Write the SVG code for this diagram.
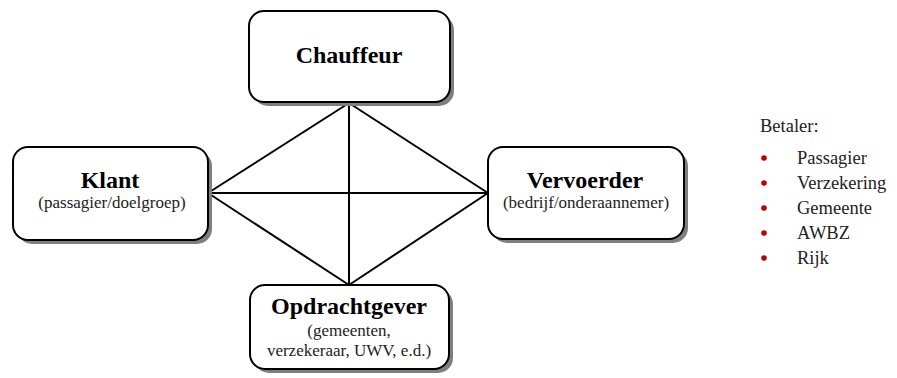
<svg xmlns="http://www.w3.org/2000/svg" width="897" height="378" viewBox="0 0 897 378">
<style>
.box{fill:#fff;stroke:#000;stroke-width:2}
.sh{fill:#7f7f7f}
.t{font-family:"Liberation Serif",serif;font-weight:bold;font-size:24px;fill:#000;text-anchor:middle}
.s{font-family:"Liberation Serif",serif;font-size:17px;fill:#222;text-anchor:middle}
.l{font-family:"Liberation Serif",serif;font-size:18.5px;fill:#222}
.ln{stroke:#000;stroke-width:2;fill:none}
</style>
<g id="connectors">
<line class="ln" x1="349" y1="103" x2="208" y2="193"/>
<line class="ln" x1="349" y1="103" x2="488" y2="193"/>
<line class="ln" x1="208" y1="193" x2="349" y2="285"/>
<line class="ln" x1="488" y1="193" x2="349" y2="285"/>
<line class="ln" x1="349" y1="103" x2="349" y2="285"/>
<line class="ln" x1="208" y1="193" x2="488" y2="193"/>
</g>
<g id="chauffeur">
<rect class="sh" x="253" y="15" width="201" height="91" rx="15"/>
<rect class="box" x="249" y="11" width="201" height="91" rx="15"/>
<text class="t" x="349" y="63">Chauffeur</text>
</g>
<g id="klant">
<rect class="sh" x="17" y="151" width="195" height="93" rx="15"/>
<rect class="box" x="13" y="147" width="195" height="93" rx="15"/>
<text class="t" x="110" y="188">Klant</text>
<text class="s" x="112" y="208">(passagier/doelgroep)</text>
</g>
<g id="vervoerder">
<rect class="sh" x="492" y="151" width="196" height="92" rx="15"/>
<rect class="box" x="488" y="147" width="196" height="92" rx="15"/>
<text class="t" x="585" y="188">Vervoerder</text>
<text class="s" x="586" y="208">(bedrijf/onderaannemer)</text>
</g>
<g id="opdrachtgever">
<rect class="sh" x="254" y="289" width="199" height="84" rx="15"/>
<rect class="box" x="250" y="285" width="199" height="84" rx="15"/>
<text class="t" x="349" y="314">Opdrachtgever</text>
<text class="s" x="349" y="336">(gemeenten,</text>
<text class="s" x="349" y="356">verzekeraar, UWV, e.d.)</text>
</g>
<g id="legend">
<text class="l" x="760" y="132">Betaler:</text>
<g fill="#c00000">
<circle cx="764" cy="158" r="2.8"/>
<circle cx="764" cy="183" r="2.8"/>
<circle cx="764" cy="208" r="2.8"/>
<circle cx="764" cy="233" r="2.8"/>
<circle cx="764" cy="258" r="2.8"/>
</g>
<text class="l" x="797" y="164">Passagier</text>
<text class="l" x="797" y="189">Verzekering</text>
<text class="l" x="797" y="214">Gemeente</text>
<text class="l" x="797" y="239">AWBZ</text>
<text class="l" x="797" y="264">Rijk</text>
</g>
</svg>
